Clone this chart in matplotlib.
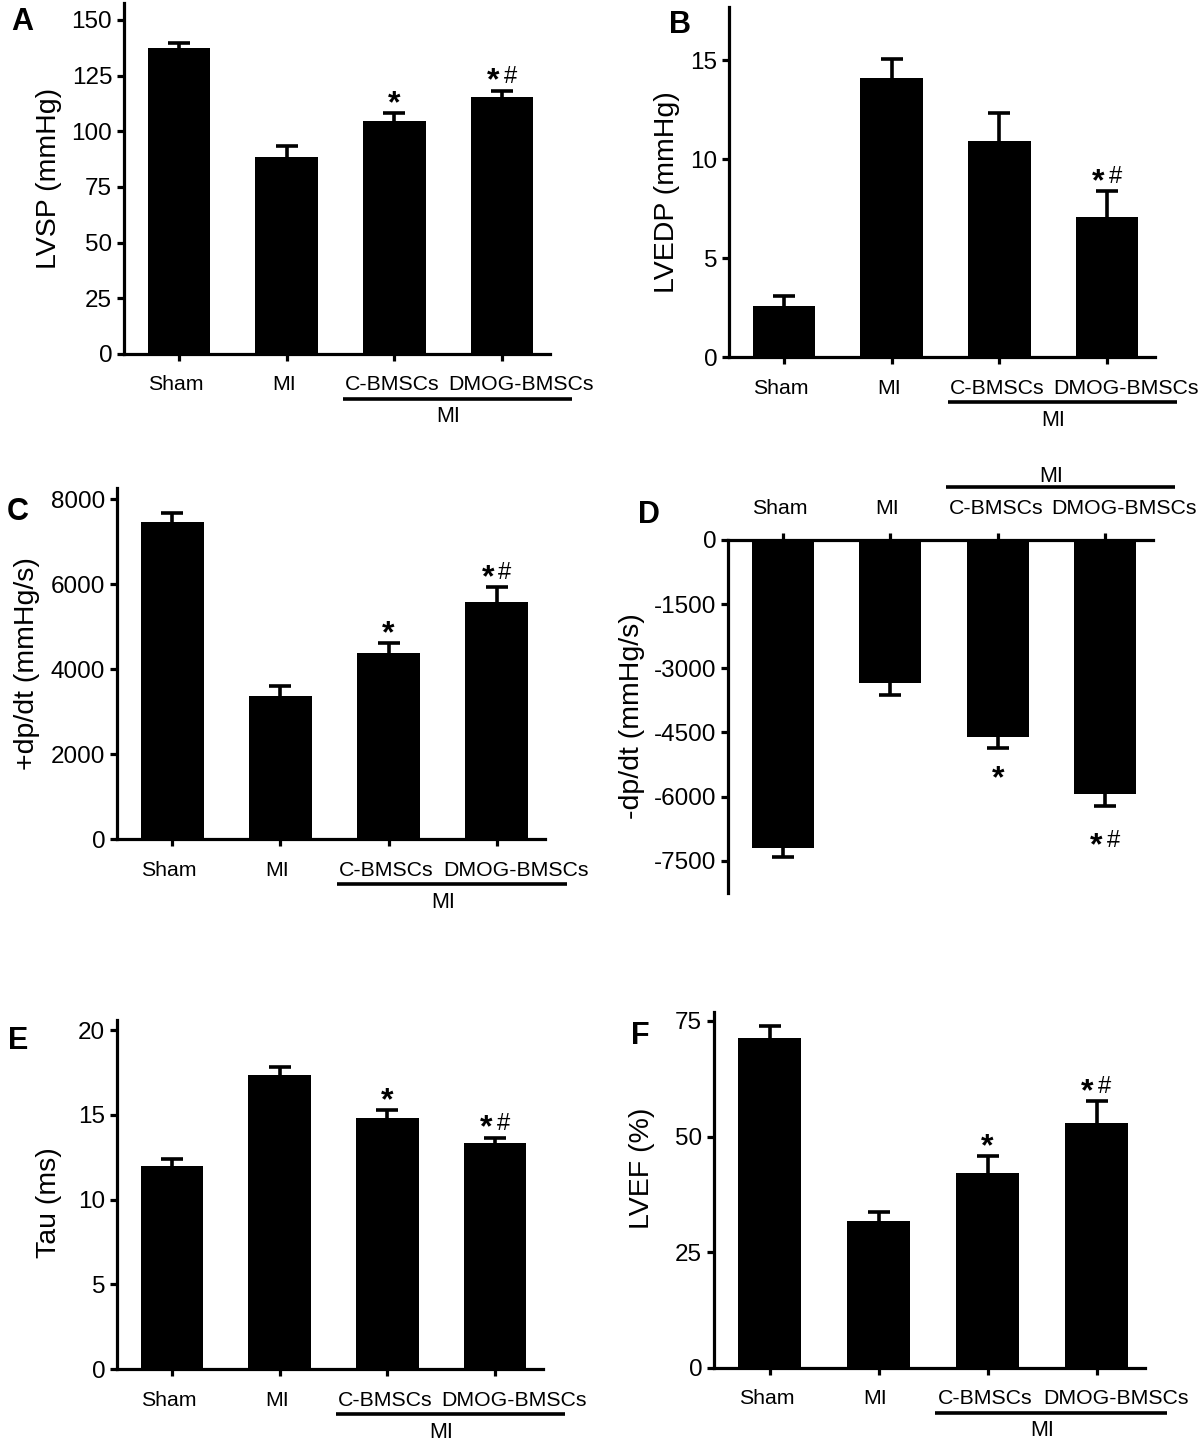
import numpy as np
import matplotlib.pyplot as plt

plt.rcParams['font.family'] = ['Liberation Sans', 'DejaVu Sans']
plt.rcParams['axes.unicode_minus'] = False

groups = ['Sham', 'MI', 'C-BMSCs', 'DMOG-BMSCs']

lvsp = [137.3, 88.6, 104.8, 115.6]
lvsp_err = [2.4, 4.7, 3.3, 2.7]
lvedp = [2.6, 14.1, 10.9, 7.1]
lvedp_err = [0.5, 0.95, 1.45, 1.3]
dpdt_pos = [7460, 3370, 4370, 5575]
dpdt_pos_err = [210, 220, 235, 355]
dpdt_neg = [-7210, -3350, -4600, -5940]
dpdt_neg_err = [195, 275, 255, 280]
tau = [12.0, 17.35, 14.8, 13.35]
tau_err = [0.4, 0.5, 0.5, 0.3]
lvef = [71.2, 31.8, 42.2, 53.0]
lvef_err = [2.7, 1.9, 3.6, 4.7]

marks_a = ['', '', '*', '*#']
marks_b = ['', '', '', '*#']

W, H = 1200, 1440
fig = plt.figure(figsize=(W / 100, H / 100), dpi=100)
PT = 0.72  # points per pixel at dpi 100
label_dx = [-3, -3, -2, 19]  # px nudges of the category labels


def panel(px_rect, vals, errs, marks, ylabel, yticks, ylim, letter, letter_xy,
          lab_xy, down=False):
    l, t, r, b = px_rect
    ax = fig.add_axes([l / W, 1 - b / H, (r - l) / W, (b - t) / H])
    hpx = b - t
    x = np.arange(len(groups))
    zero = [0] * len(vals)
    yerr = [errs, zero] if down else [zero, errs]
    bars = ax.bar(x, vals, width=0.58, color='black', yerr=yerr, capsize=8,
                  error_kw=dict(elinewidth=2.6, capthick=2.6, ecolor='black'))
    # only one cap per bar (the one away from the bar)
    caps = bars.errorbar.lines[1]
    caps[1 if down else 0].set_visible(False)
    ax.set_xlim(-0.51, 3.445)
    ax.set_ylim(*ylim)
    ax.set_yticks(yticks)
    ax.set_xticks(x)
    ax.set_xticklabels([''] * len(groups))
    for s in ['top', 'right', 'bottom', 'left']:
        ax.spines[s].set_linewidth(2.3)
    ax.spines['right'].set_visible(False)
    if down:
        ax.spines['bottom'].set_visible(False)
        ax.xaxis.set_ticks_position('top')
    else:
        ax.spines['top'].set_visible(False)
    ax.tick_params(axis='both', width=2.3, length=5, direction='out',
                   labelsize=17.5, pad=3.5)
    ax.set_ylabel(ylabel, fontsize=20.5, va='center')
    ax.yaxis.set_label_coords(lab_xy[0] / (r - l), lab_xy[1])

    # category labels, group bracket and "MI"
    sgn = 1 if down else -1
    ybase = 1 if down else 0
    for i, g in enumerate(groups):
        ax.annotate(g, xy=(i, ybase), xycoords=ax.get_xaxis_transform(),
                    xytext=(label_dx[i] * PT, sgn * 31 * PT),
                    textcoords='offset points', ha='center', va='center',
                    fontsize=15.3, annotation_clip=False)
    yb = ybase + sgn * (53 if down else 45) / hpx
    ax.plot([1.52, 3.65], [yb, yb], transform=ax.get_xaxis_transform(),
            color='black', lw=2.6, clip_on=False, solid_capstyle='butt')
    ax.annotate('MI', xy=(2.5, ybase), xycoords=ax.get_xaxis_transform(),
                xytext=(0, sgn * 63 * PT), textcoords='offset points',
                ha='center', va='center', fontsize=15.5, annotation_clip=False)

    # significance marks
    for i, m in enumerate(marks):
        if not m:
            continue
        end = vals[i] - errs[i] if down else vals[i] + errs[i]
        if down:
            c = -22 if m == '*' else -30
        else:
            c = 19
        if m == '*':
            ax.annotate('*', xy=(i, end), xytext=(0, (c - 18) * PT),
                        textcoords='offset points', ha='center', va='baseline',
                        fontsize=23, fontweight='bold')
        else:
            ax.annotate('*', xy=(i, end), xytext=(-9 * PT, (c - 18) * PT),
                        textcoords='offset points', ha='center', va='baseline',
                        fontsize=23, fontweight='bold')
            ax.annotate('#', xy=(i, end), xytext=(8 * PT, (c - 3 - 8.2) * PT),
                        textcoords='offset points', ha='center', va='baseline',
                        fontsize=17)

    fig.text(letter_xy[0] / W, 1 - letter_xy[1] / H, letter, fontsize=22,
             fontweight='bold', ha='left', va='top')
    return ax


panel((124, 3, 550, 354), lvsp, lvsp_err, marks_a, 'LVSP (mmHg)',
      [0, 25, 50, 75, 100, 125, 150], (0, 157.6), 'A', (11, 7), (-75, 0.5))
panel((729, 7, 1155, 357), lvedp, lvedp_err, marks_b, 'LVEDP (mmHg)',
      [0, 5, 10, 15], (0, 17.7), 'B', (669, 10), (-62, 0.47))
panel((117, 488, 545, 839), dpdt_pos, dpdt_pos_err, marks_a, '+dp/dt (mmHg/s)',
      [0, 2000, 4000, 6000, 8000], (0, 8259), 'C', (7, 497), (-90, 0.5))
panel((728, 540, 1153, 893), dpdt_neg, dpdt_neg_err, marks_a, '-dp/dt (mmHg/s)',
      [0, -1500, -3000, -4500, -6000, -7500], (-8255, 0), 'D', (638, 500),
      (-96, 0.5), down=True)
panel((117, 1020, 543, 1369), tau, tau_err, marks_a, 'Tau (ms)',
      [0, 5, 10, 15, 20], (0, 20.6), 'E', (8, 1026), (-68, 0.477))
panel((714, 1012, 1145, 1368), lvef, lvef_err, marks_a, 'LVEF (%)',
      [0, 25, 50, 75], (0, 76.9), 'F', (631, 1021), (-72, 0.56))

plt.savefig('out.png', dpi=100)
plt.close()
